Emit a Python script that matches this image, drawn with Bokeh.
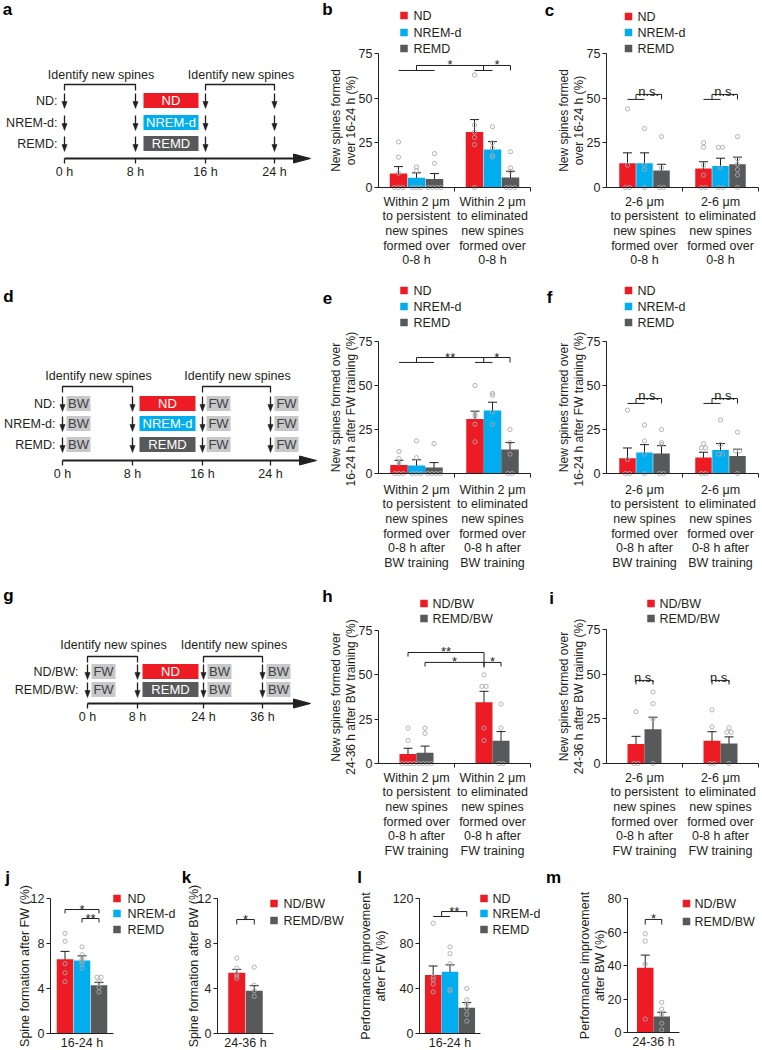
from collections import Counter
from bokeh.plotting import figure
from bokeh.models import Range1d, FixedTicker, Whisker, TeeHead, ColumnDataSource
from bokeh.layouts import row, column
from bokeh.embed import file_html
from bokeh.resources import INLINE
from bokeh.core.properties import value

FONT = "Liberation Sans"
INK = "#231F20"
RED = "#ED1C24"
BLUE = "#00AEEF"
DGREY = "#58595B"
LGREY = "#C7C8CA"
DOT = "#A7A9AC"

# ------------------------------------------------------------------ data
names3 = ["ND", "NREM-d", "REMD"]
names2 = ["ND/BW", "REMD/BW"]

a_hours = ["0 h", "8 h", "16 h", "24 h"]
g_hours = ["0 h", "8 h", "24 h", "36 h"]
a_rows = ["ND:", "NREM-d:", "REMD:"]
g_rows = ["ND/BW:", "REMD/BW:"]
a_treat = ["ND", "NREM-d", "REMD"]
g_treat = ["ND", "REMD"]
d_train = ["BW", "FW", "FW"]
g_train = ["FW", "BW", "BW"]

b_groups = ["Within 2 \u03bcm\nto persistent\nnew spines\nformed over\n0-8 h",
            "Within 2 \u03bcm\nto eliminated\nnew spines\nformed over\n0-8 h"]
c_groups = ["2-6 \u03bcm\nto persistent\nnew spines\nformed over\n0-8 h",
            "2-6 \u03bcm\nto eliminated\nnew spines\nformed over\n0-8 h"]
e_groups = ["Within 2 \u03bcm\nto persistent\nnew spines\nformed over\n0-8 h after\nBW training",
            "Within 2 \u03bcm\nto eliminated\nnew spines\nformed over\n0-8 h after\nBW training"]
f_groups = ["2-6 \u03bcm\nto persistent\nnew spines\nformed over\n0-8 h after\nBW training",
            "2-6 \u03bcm\nto eliminated\nnew spines\nformed over\n0-8 h after\nBW training"]
h_groups = ["Within 2 \u03bcm\nto persistent\nnew spines\nformed over\n0-8 h after\nFW training",
            "Within 2 \u03bcm\nto eliminated\nnew spines\nformed over\n0-8 h after\nFW training"]
i_groups = ["2-6 \u03bcm\nto persistent\nnew spines\nformed over\n0-8 h after\nFW training",
            "2-6 \u03bcm\nto eliminated\nnew spines\nformed over\n0-8 h after\nFW training"]
j_groups = ["16-24 h"]
k_groups = ["24-36 h"]
l_groups = ["16-24 h"]
m_groups = ["24-36 h"]

b_nd = [7.9, 31.0]
b_nd_sem = [3.8, 7.0]
b_nrem = [5.4, 21.2]
b_nrem_sem = [2.8, 4.5]
b_remd = [4.8, 5.6]
b_remd_sem = [3.0, 3.5]
b_nd_pts = [[25.5, 17, 8, 0, 0, 0], [63, 35, 31, 28, 24, 0]]
b_nrem_pts = [[11.5, 9.5, 0, 0, 0], [34, 25, 22, 18, 17]]
b_remd_pts = [[19, 13.5, 0, 0, 0, 0], [20, 11, 9, 0, 0, 0]]

c_nd = [13.6, 10.6]
c_nd_sem = [5.8, 3.8]
c_nrem = [13.6, 12.0]
c_nrem_sem = [5.8, 4.4]
c_remd = [9.5, 13.0]
c_remd_sem = [3.5, 4.0]
c_nd_pts = [[44, 12.5, 0, 0], [25, 22.5, 12.5, 7, 0, 0]]
c_nrem_pts = [[33, 12.5, 10, 0], [22.5, 22.5, 11, 0, 0]]
c_remd_pts = [[28.5, 11, 0, 0], [28.5, 16, 13, 10, 7, 0]]

e_nd = [4.9, 30.9]
e_nd_sem = [2.6, 4.5]
e_nrem = [4.5, 35.8]
e_nrem_sem = [3.3, 4.7]
e_remd = [3.4, 13.6]
e_remd_sem = [2.8, 4.0]
e_nd_pts = [[12.5, 8.5, 6, 0, 0, 0], [50, 34, 32.5, 28, 18]]
e_nrem_pts = [[18.5, 9, 0, 0, 0], [45.5, 44.5, 35, 28]]
e_remd_pts = [[17, 0, 0, 0, 0], [25, 17.5, 11, 0, 0]]

f_nd = [8.7, 9.1]
f_nd_sem = [5.8, 3.0]
f_nrem = [11.9, 13.4]
f_nrem_sem = [4.5, 3.6]
f_remd = [11.4, 10.0]
f_remd_sem = [4.4, 3.8]
f_nd_pts = [[36, 8, 0, 0], [17, 14.5, 14.5, 0, 0]]
f_nrem_pts = [[27.5, 18.5, 11, 0], [30.5, 16.5, 11, 11]]
f_remd_pts = [[25, 17.5, 16.5, 0, 0], [23.5, 12.8, 12.8, 0]]

h_nd = [5.3, 34.5]
h_nd_sem = [3.3, 6.2]
h_remd = [6.0, 12.8]
h_remd_sem = [3.8, 5.2]
h_nd_pts = [[20, 13, 0, 0, 0, 0], [50, 43.5, 43.5, 20, 13]]
h_remd_pts = [[20, 17, 0, 0, 0, 0], [33.5, 20, 0, 0]]

i_nd = [10.9, 12.8]
i_nd_sem = [4.3, 5.0]
i_remd = [19.2, 11.2]
i_remd_sem = [6.7, 3.7]
i_nd_pts = [[29, 0, 0], [30, 20.5, 0, 0]]
i_remd_pts = [[40, 33.5, 25, 0], [20, 17.5, 17.5, 0]]

j_nd = [6.6]
j_nd_sem = [0.7]
j_nrem = [6.5]
j_nrem_sem = [0.4]
j_remd = [4.3]
j_remd_sem = [0.25]
j_nd_pts = [[8.9, 8.2, 6.2, 5.4, 4.6]]
j_nrem_pts = [[7.7, 7.0, 6.6, 6.4, 6.2, 5.8]]
j_remd_pts = [[5.0, 5.0, 4.6, 4.1, 3.7]]

k_nd = [5.4]
k_nd_sem = [0.3]
k_remd = [3.8]
k_remd_sem = [0.45]
k_nd_pts = [[6.7, 5.8, 5.3, 5.1, 4.9]]
k_remd_pts = [[5.9, 4.3, 3.8, 3.3]]

l_nd = [52]
l_nd_sem = [8]
l_nrem = [55]
l_nrem_sem = [6]
l_remd = [23]
l_remd_sem = [4.5]
l_nd_pts = [[98, 50, 48, 44, 37]]
l_nrem_pts = [[77, 71, 62, 39, 38]]
l_remd_pts = [[40, 30, 26, 22, 17, 11]]

m_nd = [38.7]
m_nd_sem = [7.5]
m_remd = [9.6]
m_remd_sem = [2.5]
m_nd_pts = [[59, 54.5, 41, 8]]
m_remd_pts = [[18, 14, 11, 5.5, 1.5]]

# ------------------------------------------------------------------ helpers
TXT = dict(text_font=value(FONT), text_color=INK)


def spread(vals, step):
    tot = Counter(round(v, 2) for v in vals)
    seen = Counter()
    out = []
    for v in vals:
        k = round(v, 2)
        out.append((seen[k] - (tot[k] - 1) / 2) * step)
        seen[k] += 1
    return out


def letter_glyph(p, x, y, t):
    p.text([x], [y], text=[t], text_font=value(FONT), text_font_style="bold", text_font_size="17px",
           text_align="center", text_baseline="middle", text_color="black")


def schematic(col_left, row_top, W, H, letter, letter_xy, row_labels, rows_y, label_right,
              tick_x, tick_labels, line_y, tip_x, treat_x, treat_labels, treat_colors,
              train_ticks, train_labels, ident_y, ident_text_y):
    p = figure(frame_width=W, frame_height=H, output_backend="svg", toolbar_location=None,
               x_range=Range1d(col_left, col_left + W), y_range=Range1d(row_top + H, row_top),
               min_border=0, x_axis_location=None, y_axis_location=None)
    p.outline_line_color = None
    p.grid.visible = False
    letter_glyph(p, letter_xy[0], letter_xy[1], letter)
    bx, by, tx, ty = [], [], [], []
    for i, j in [(0, 1), (2, 3)]:
        bx.append([tick_x[i], tick_x[i], tick_x[j], tick_x[j]])
        by.append([ident_y + 6, ident_y, ident_y, ident_y + 6])
        tx.append((tick_x[i] + tick_x[j]) / 2 + 1)
        ty.append(ident_text_y)
    p.multi_line(bx, by, line_color=INK, line_width=1.3)
    p.text(tx, ty, text=["Identify new spines"] * 2, text_align="center", text_baseline="middle",
           text_font_size="12.5px", **TXT)
    p.text([label_right] * len(rows_y), rows_y, text=row_labels, text_align="right", text_baseline="middle",
           text_font_size="12.5px", **TXT)
    # down arrows
    sx, sy, hx, hy = [], [], [], []
    for ry in rows_y:
        for t in tick_x:
            sx.append([t, t]); sy.append([ry - 7, ry + 2])
            hx.append([t - 2.6, t + 2.6, t]); hy.append([ry + 1, ry + 1, ry + 8])
    p.multi_line(sx, sy, line_color=INK, line_width=1.3)
    p.patches(hx, hy, fill_color=INK, line_color=INK, line_width=0.5)
    # treatment boxes
    n = len(rows_y)
    p.quad(left=[treat_x[0]] * n, right=[treat_x[1]] * n, top=[y - 7.5 for y in rows_y],
           bottom=[y + 7.5 for y in rows_y], fill_color=treat_colors, line_color=None)
    p.text([(treat_x[0] + treat_x[1]) / 2] * n, rows_y, text=treat_labels, text_align="center",
           text_baseline="middle", text_font=value(FONT), text_font_size="13px", text_color="white")
    # training boxes
    ql, qr, qt, qb, lx, ly, lt = [], [], [], [], [], [], []
    for ti, lab in zip(train_ticks, train_labels):
        for ry in rows_y:
            ql.append(tick_x[ti] + 4); qr.append(tick_x[ti] + 28)
            qt.append(ry - 7.5); qb.append(ry + 7.5)
            lx.append(tick_x[ti] + 16); ly.append(ry); lt.append(lab)
    if ql:
        p.quad(left=ql, right=qr, top=qt, bottom=qb, fill_color=LGREY, line_color=None)
        p.text(lx, ly, text=lt, text_align="center", text_baseline="middle", text_font=value(FONT),
               text_font_size="13px", text_color="#414042")
    # time line
    p.segment(x0=[tick_x[0]], y0=[line_y], x1=[tip_x - 10], y1=[line_y], line_color=INK, line_width=1.8)
    p.patch([tip_x - 17, tip_x, tip_x - 17], [line_y - 4.5, line_y, line_y + 4.5], fill_color=INK, line_color=INK)
    p.multi_line([[t, t] for t in tick_x], [[line_y, line_y + 5] for t in tick_x], line_color=INK, line_width=1.3)
    p.text(tick_x, [line_y + 13] * len(tick_x), text=tick_labels, text_align="center", text_baseline="middle",
           text_font_size="12.5px", **TXT)
    return p


def bar_panel(col_left, W, row_top, H, ax_x0, ax_x1, y0, ytop, ymax, yticks, ylabel,
              groups, names, colors, means, sems, points, bar_w, bar_step, letter, letter_xy,
              leg_sq_x, leg_txt_x, leg_ys, brackets, ylabel_size="12px", label_standoff=4,
              ylabel_standoff=-2, end_ticks=True):
    ng = len(groups)
    unit = (ax_x1 - ax_x0) / ng
    ppu = (y0 - ytop) / ymax

    def X(px):
        return -0.5 + (px - ax_x0) / unit

    def Y(py):
        return (y0 - py) / ppu

    p = figure(width=W, height=H, output_backend="svg", toolbar_location=None, min_border=0,
               x_range=Range1d(X(col_left), X(col_left + W)),
               y_range=Range1d(Y(row_top + H), Y(row_top)))
    p.outline_line_color = None
    p.grid.visible = False

    n = len(names)
    offs = [(i - (n - 1) / 2) * bar_step / unit for i in range(n)]
    pos = {}
    srcs = []
    for i in range(n):
        xs = [g + offs[i] for g in range(ng)]
        for g in range(ng):
            pos[(g, i)] = xs[g]
        src = ColumnDataSource(dict(x=xs, top=means[i],
                                    upper=[m + s for m, s in zip(means[i], sems[i])],
                                    lower=[m - s for m, s in zip(means[i], sems[i])]))
        srcs.append(src)
        p.vbar(x="x", top="top", bottom=0, width=bar_w / unit, source=src, fill_color=colors[i], line_color=None)
    for i in range(n):
        px_, py_ = [], []
        for g in range(ng):
            dx = spread(points[i][g], 4.2 / unit)
            px_ += [pos[(g, i)] + d for d in dx]
            py_ += list(points[i][g])
        p.scatter(px_, py_, marker="circle", size=4.2, fill_color=None, line_color=DOT, line_width=0.9)
    for src in srcs:
        p.add_layout(Whisker(source=src, base="x", upper="upper", lower="lower", line_color=INK, line_width=1,
                             upper_head=TeeHead(size=9, line_color=INK, line_width=1),
                             lower_head=TeeHead(size=9, line_color=INK, line_width=1)))
    # significance brackets
    sxs, sys_, lx, ly, lt = [], [], [], [], []
    for br in brackets:
        hi = br["hi"]
        nodes = []
        for bars, lo in br["nodes"]:
            bx = [pos[b] for b in bars]
            if len(bx) > 1:
                sxs.append([min(bx), max(bx)]); sys_.append([lo, lo])
            xm = sum(bx) / len(bx)
            sxs.append([xm, xm]); sys_.append([lo, hi])
            nodes.append(xm)
        sxs.append([nodes[0], nodes[-1]]); sys_.append([hi, hi])
        for k, t in enumerate(br["labels"]):
            lx.append((nodes[k] + nodes[k + 1]) / 2)
            ly.append(hi + br["gap"] / ppu)
            lt.append(t)
    if sxs:
        p.multi_line(sxs, sys_, line_color=INK, line_width=1)
        p.text(lx, ly, text=lt, text_align="center", text_baseline="alphabetic", text_font_size="13px", **TXT)
    # legend
    p.scatter([X(leg_sq_x)] * n, [Y(y) for y in leg_ys], marker="square", size=7.5, fill_color=colors,
              line_color=None)
    p.text([X(leg_txt_x)] * n, [Y(y) for y in leg_ys], text=names, text_align="left", text_baseline="middle",
           text_font_size="12.5px", **TXT)
    letter_glyph(p, X(letter_xy[0]), Y(letter_xy[1]), letter)
    # axes
    ya = p.yaxis[0]
    xa = p.xaxis[0]
    for ax in (xa, ya):
        ax.major_label_text_font = FONT
        ax.major_label_text_font_size = "12.5px"
        ax.major_label_text_color = INK
        ax.axis_line_color = INK
        ax.axis_line_width = 1
        ax.major_tick_line_color = INK
        ax.minor_tick_line_color = INK
        ax.major_tick_in = 0
        ax.minor_tick_in = 0
    ya.fixed_location = -0.5
    xa.fixed_location = 0
    ya.bounds = (0, ymax)
    ya.ticker = FixedTicker(ticks=yticks)
    ya.major_tick_out = 4
    ya.minor_tick_out = 0
    ya.major_label_standoff = 2
    ya.axis_label = ylabel
    ya.axis_label_text_font = FONT
    ya.axis_label_text_font_size = ylabel_size
    ya.axis_label_text_font_style = "normal"
    ya.axis_label_text_color = INK
    ya.axis_label_standoff = ylabel_standoff
    ya.axis_label_text_line_height = 1.03
    xa.bounds = (-0.5, ng - 0.5)
    xa.ticker = FixedTicker(ticks=list(range(ng)),
                            minor_ticks=[k + 0.5 for k in range(ng)] if end_ticks else [])
    xa.major_label_overrides = {g: groups[g] for g in range(ng)}
    xa.major_tick_out = 0
    xa.minor_tick_out = 4
    xa.major_label_standoff = label_standoff
    xa.major_label_text_line_height = 1.05
    return p


C3 = [RED, BLUE, DGREY]
C2 = [RED, DGREY]

# ------------------------------------------------------------------ row 1  (y 0-282)
pa = schematic(0, 0, 318, 282, "a", (7, 9), a_rows, [100, 122, 143], 57,
               [64, 135, 205, 274], a_hours, 158, 310, (143, 198), a_treat, C3,
               [], [], 84, 74)
pb = bar_panel(318, 218, 0, 282, 378, 530, 187, 53, 75, [0, 25, 50, 75],
               "New spines formed\nover 16-24 h (%)", b_groups, names3, C3,
               [b_nd, b_nrem, b_remd], [b_nd_sem, b_nrem_sem, b_remd_sem],
               [b_nd_pts, b_nrem_pts, b_remd_pts], 17.5, 18, "b", (327, 9), 403.5, 413, [15, 32, 48],
               [dict(hi=68.3, gap=0.5, labels=["*", "*"],
                     nodes=[([(0, 0), (0, 1), (0, 2)], 65.5), ([(1, 0), (1, 1)], 65.5), ([(1, 2)], 65.5)])],
               label_standoff=3)
pc = bar_panel(536, 225, 0, 282, 606, 758, 187, 53, 75, [0, 25, 50, 75],
               "New spines formed\nover 16-24 h (%)", c_groups, names3, C3,
               [c_nd, c_nrem, c_remd], [c_nd_sem, c_nrem_sem, c_remd_sem],
               [c_nd_pts, c_nrem_pts, c_remd_pts], 16.5, 17, "c", (549, 10), 628, 637, [16, 32, 48],
               [dict(hi=52.1, gap=3, labels=["n.s."], nodes=[([(g, 0), (g, 1)], 49.3), ([(g, 2)], 49.3)])
                for g in range(2)],
               label_standoff=3)

# ------------------------------------------------------------------ row 2  (y 282-572)
pd_ = schematic(0, 282, 318, 290, "d", (8, 296), a_rows, [403, 423, 444], 55,
                [62, 132, 202, 270], a_hours, 460, 316, (139, 195), a_treat, C3,
                [0, 2, 3], d_train, 386, 375)
pe = bar_panel(318, 218, 282, 290, 378, 530, 473, 341, 75, [0, 25, 50, 75],
               "New spines formed over\n16-24 h  after FW training (%)", e_groups, names3, C3,
               [e_nd, e_nrem, e_remd], [e_nd_sem, e_nrem_sem, e_remd_sem],
               [e_nd_pts, e_nrem_pts, e_remd_pts], 17.5, 17.5, "e", (327, 297), 403.5, 413, [290, 306, 322],
               [dict(hi=65.9, gap=0.5, labels=["**", "*"],
                     nodes=[([(0, 0), (0, 1), (0, 2)], 63.1), ([(1, 0), (1, 1)], 63.1), ([(1, 2)], 63.1)])],
               label_standoff=5)
pf = bar_panel(536, 225, 282, 290, 606, 758, 473, 341, 75, [0, 25, 50, 75],
               "New spines formed over\n16-24 h  after FW training (%)", f_groups, names3, C3,
               [f_nd, f_nrem, f_remd], [f_nd_sem, f_nrem_sem, f_remd_sem],
               [f_nd_pts, f_nrem_pts, f_remd_pts], 16.5, 17, "f", (549, 297), 628, 637, [290, 306, 322],
               [dict(hi=42.6, gap=3, labels=["n.s."], nodes=[([(g, 0), (g, 1)], 39.8), ([(g, 2)], 39.8)])
                for g in range(2)],
               label_standoff=5)

# ------------------------------------------------------------------ row 3  (y 572-860)
pg = schematic(0, 572, 318, 288, "g", (8, 595), g_rows, [671, 689], 78,
               [87, 137, 203, 262], g_hours, 703, 310, (142, 198), g_treat, C2,
               [0, 2, 3], g_train, 656, 644)
ph = bar_panel(318, 218, 572, 288, 378, 530, 763, 630, 75, [0, 25, 50, 75],
               "New spines formed over\n24-36 h after BW training (%)", h_groups, names2, C2,
               [h_nd, h_remd], [h_nd_sem, h_remd_sem], [h_nd_pts, h_remd_pts], 17, 17,
               "h", (327, 596), 423.5, 432, [603, 618],
               [dict(hi=62.6, gap=0.5, labels=["**"], nodes=[([(0, 0)], 60.3), ([(1, 0)], 54.1)]),
                dict(hi=57.0, gap=0.5, labels=["*", "*"],
                     nodes=[([(0, 1)], 54.7), ([(1, 0)], 54.7), ([(1, 1)], 54.7)])],
               label_standoff=3)
pi = bar_panel(536, 225, 572, 288, 606, 758, 763, 629, 75, [0, 25, 50, 75],
               "New spines formed over\n24-36 h after BW training (%)", i_groups, names2, C2,
               [i_nd, i_remd], [i_nd_sem, i_remd_sem], [i_nd_pts, i_remd_pts], 17, 17,
               "i", (551, 598), 650.5, 659, [603, 618],
               [dict(hi=46.5, gap=3, labels=["n.s."], nodes=[([(g, 0)], 44.2), ([(g, 1)], 44.2)])
                for g in range(2)],
               label_standoff=3)

# ------------------------------------------------------------------ row 4  (y 860-1049)
pj = bar_panel(0, 176, 860, 189, 50, 113, 1033, 898, 12, [0, 4, 8, 12],
               "Spine formation after FW (%)", j_groups, names3, C3,
               [j_nd, j_nrem, j_remd], [j_nd_sem, j_nrem_sem, j_remd_sem],
               [j_nd_pts, j_nrem_pts, j_remd_pts], 16.5, 17, "j", (7, 877), 116.5, 127, [898, 913, 929],
               [dict(hi=11.02, gap=0.5, labels=["*"], nodes=[([(0, 0)], 10.67), ([(0, 2)], 10.67)]),
                dict(hi=10.22, gap=0.5, labels=["**"], nodes=[([(0, 1)], 9.87), ([(0, 2)], 9.87)])],
               ylabel_size="12.5px", label_standoff=2, ylabel_standoff=-4, end_ticks=False)
pk = bar_panel(176, 178, 860, 189, 217, 273, 1033, 898, 12, [0, 4, 8, 12],
               "Spine formation after BW (%)", k_groups, names2, C2,
               [k_nd, k_remd], [k_nd_sem, k_remd_sem], [k_nd_pts, k_remd_pts], 17, 17.5,
               "k", (186, 877), 273.5, 283, [903, 920],
               [dict(hi=10.13, gap=0.5, labels=["*"], nodes=[([(0, 0)], 9.69), ([(0, 1)], 9.69)])],
               ylabel_size="12.5px", label_standoff=2, ylabel_standoff=-6, end_ticks=False)
pl = bar_panel(354, 186, 860, 189, 419, 480, 1033, 898, 120, [0, 40, 80, 120],
               "Performance improvement\nafter FW (%)", l_groups, names3, C3,
               [l_nd, l_nrem, l_remd], [l_nd_sem, l_nrem_sem, l_remd_sem],
               [l_nd_pts, l_nrem_pts, l_remd_pts], 16.5, 16.8, "l", (359, 877), 483.5, 492, [898, 913, 929],
               [dict(hi=108.4, gap=0.5, labels=["**"], nodes=[([(0, 0), (0, 1)], 104), ([(0, 2)], 104)])],
               ylabel_size="12.5px", label_standoff=2, ylabel_standoff=2, end_ticks=False)
pm = bar_panel(540, 221, 860, 189, 627, 679, 1032, 898, 80, [0, 20, 40, 60, 80],
               "Performance improvement\nafter BW (%)", m_groups, names2, C2,
               [m_nd, m_remd], [m_nd_sem, m_remd_sem], [m_nd_pts, m_remd_pts], 16.5, 16.5,
               "m", (553, 877), 686, 694, [903, 921],
               [dict(hi=67.5, gap=0.5, labels=["*"], nodes=[([(0, 0)], 64.5), ([(0, 1)], 64.5)])],
               ylabel_size="12.5px", label_standoff=2, ylabel_standoff=-2, end_ticks=False)

layout = column(row(pa, pb, pc), row(pd_, pe, pf), row(pg, ph, pi), row(pj, pk, pl, pm))
open("out.html", "w").write(file_html(layout, INLINE))
